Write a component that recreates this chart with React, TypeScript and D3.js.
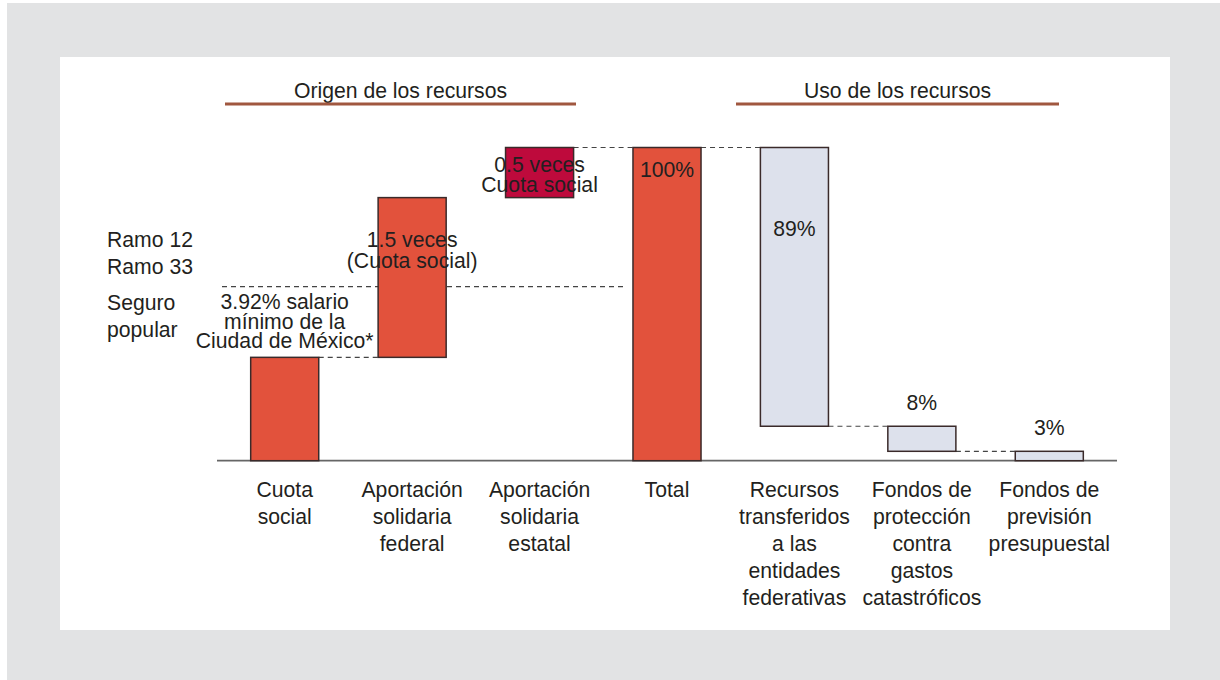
import React from "react";
import * as d3 from "d3";

const categories: string[][] = [
  ["Cuota", "social"],
  ["Aportación", "solidaria", "federal"],
  ["Aportación", "solidaria", "estatal"],
  ["Total"],
  ["Recursos", "transferidos", "a las", "entidades", "federativas"],
  ["Fondos de", "protección", "contra", "gastos", "catastróficos"],
  ["Fondos de", "previsión", "presupuestal"],
];
const values: number[] = [33, 51, 16, 100, 89, 8, 3];
const kinds: string[] = ["up", "up", "up", "total", "down", "down", "down"];
const barColors: string[] = ["#e2523c", "#e2523c", "#be0a3c", "#e2523c", "#dde1ec", "#dde1ec", "#dde1ec"];
const barNotes: string[][] = [
  ["3.92% salario", "mínimo de la", "Ciudad de México*"],
  ["1.5 veces", "(Cuota social)"],
  ["0.5 veces", "Cuota social"],
  ["100%"],
  ["89%"],
  ["8%"],
  ["3%"],
];
const connectors: number[][] = [[0, 1], [2, 3], [3, 4], [4, 5], [5, 6]];
const dividerLevel = 55.6;
const groupTitles: string[] = ["Origen de los recursos", "Uso de los recursos"];
const sideLabels: string[] = ["Ramo 12", "Ramo 33", "Seguro", "popular"];

const FONT = "'Liberation Sans', Arial, Helvetica, sans-serif";
const FS = 21.2;
const TXT = "#231f20";

export default function App() {
  let cum = 0;
  const segs = values.map((v, i) => {
    const k = kinds[i];
    let lo = 0, hi = 0;
    if (k === "up") { lo = cum; hi = cum + v; cum = hi; }
    else if (k === "total") { lo = 0; hi = v; cum = v; }
    else { hi = cum; lo = cum - v; cum = lo; }
    return { lo, hi };
  });

  const x = d3.scaleBand<number>()
    .domain(values.map((_, i) => i))
    .range([221, 1113])
    .paddingInner(0.466)
    .paddingOuter(0.233);
  const y = d3.scaleLinear().domain([0, 100]).range([460.7, 147.5]);
  const bw = x.bandwidth();
  const cx = (i: number) => (x(i) as number) + bw / 2;

  const noteY = (i: number): number => {
    const s = segs[i];
    if (i === 0) return 309;
    if (i === 1) return 246.7;
    if (i === 2) return 171.7;
    if (i === 3) return y(s.hi) + 29;
    if (i === 4) return y(s.hi) + 88;
    return y(s.hi) - 16;
  };
  const noteSpacing = (i: number) => (i === 0 ? 19.7 : i === 1 ? 21.5 : 20);

  const groups = [
    { x0: 225, x1: 576 },
    { x0: 736, x1: 1059 },
  ];

  return (
    <div style={{ position: "absolute", left: 0, top: 0 }}>
      <svg width={1220} height={680} style={{ display: "block" }} fontFamily={FONT}>
        <rect x={0} y={0} width={1220} height={680} fill="#ffffff" />
        <rect x={7} y={3} width={1213} height={677} fill="#e2e3e4" />
        <rect x={60} y={57} width={1110} height={573} fill="#ffffff" />

        {groups.map((g, i) => (
          <g key={"g" + i}>
            <text x={(g.x0 + g.x1) / 2} y={97.7} textAnchor="middle" fontSize={FS} fill={TXT}>
              {groupTitles[i]}
            </text>
            <line x1={g.x0} x2={g.x1} y1={104} y2={104} stroke="#a0573f" strokeWidth={3} />
          </g>
        ))}

        {sideLabels.map((s, i) => (
          <text key={"s" + i} x={107} y={[246.7, 274, 310, 336.7][i]} fontSize={FS} fill={TXT}>
            {s}
          </text>
        ))}

        <line x1={222} x2={627} y1={y(dividerLevel)} y2={y(dividerLevel)} stroke="#444" strokeWidth={1.2} strokeDasharray="5,4" />

        {connectors.map(([a, b], i) => {
          const sa = segs[a];
          const level = kinds[a] === "down" ? sa.lo : sa.hi;
          return (
            <line key={"c" + i} x1={(x(a) as number) + bw} x2={x(b) as number} y1={y(level)} y2={y(level)}
              stroke="#444" strokeWidth={1.2} strokeDasharray="5,4" />
          );
        })}

        <line x1={217} x2={1117} y1={y(0)} y2={y(0)} stroke="#666" strokeWidth={1.8} />

        {segs.map((s, i) => (
          <rect key={"b" + i} x={x(i) as number} y={y(s.hi)} width={bw} height={y(s.lo) - y(s.hi)}
            fill={barColors[i]} stroke="#3a2a2a" strokeWidth={1.5} />
        ))}

        {barNotes.map((lines, i) => (
          <text key={"n" + i} textAnchor="middle" fontSize={FS} fill={TXT}>
            {lines.map((l, j) => (
              <tspan key={j} x={cx(i)} y={noteY(i) + j * noteSpacing(i)}>{l}</tspan>
            ))}
          </text>
        ))}

        {categories.map((lines, i) => (
          <text key={"l" + i} textAnchor="middle" fontSize={FS} fill={TXT}>
            {lines.map((l, j) => (
              <tspan key={j} x={cx(i)} y={497 + j * 27}>{l}</tspan>
            ))}
          </text>
        ))}
      </svg>
    </div>
  );
}
